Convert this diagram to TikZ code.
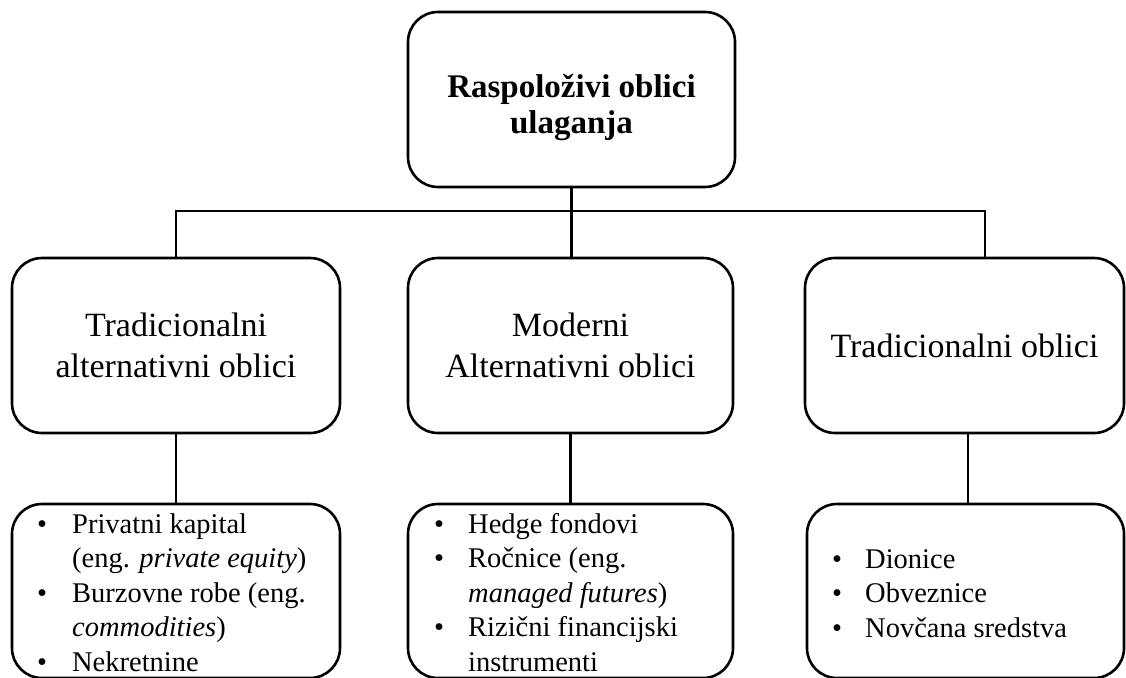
\documentclass[tikz,border=0pt]{standalone}
\usepackage{fontspec}
\setmainfont{Liberation Serif}
\tikzset{
  box/.style={draw=black, line width=2.6pt, rounded corners=30pt, inner sep=0pt, align=center},
  conn/.style={draw=black, line width=2.6pt},
  midtext/.style={font=\fontsize{34}{40.5}\selectfont},
  listtext/.style={inner sep=0pt, anchor=base west, align=left, font=\fontsize{28.5}{34.5}\selectfont}
}
\begin{document}
\begin{tikzpicture}[x=1pt,y=-1pt]
\useasboundingbox (0,0) rectangle (1126,677);
% top
\node[box, minimum width=327pt, minimum height=175pt] (top) at (571.5,99.5) {};
\node[inner sep=0pt, align=center, font=\bfseries\fontsize{33}{36}\selectfont] (toptext) at (571.5,108) {Raspoloživi oblici\\ulaganja};
% middle row
\node[box, midtext, minimum width=328pt, minimum height=175pt] (ml) at (176,345.5) {Tradicionalni\\alternativni oblici};
\node[box, midtext, minimum width=325pt, minimum height=175pt] (mm) at (570.5,345.5) {Moderni\\Alternativni oblici};
\node[box, midtext, minimum width=319pt, minimum height=175pt] (mr) at (964.5,345.5) {Tradicionalni oblici};
% bottom row
\node[box, minimum width=328pt, minimum height=174pt] (bl) at (176,591) {};
\node[box, minimum width=325pt, minimum height=174pt] (bm) at (570.5,591) {};
\node[box, minimum width=317pt, minimum height=174pt] (br) at (965.5,591) {};
% lists
\node[listtext] (ll) at (37,533) {\begin{tabular}[t]{@{}p{35pt}@{}l@{}}
\textbullet & Privatni kapital\\
 & (eng. \textit{private equity})\\
\textbullet & Burzovne robe (eng.\\
 & \textit{commodities})\\
\textbullet & Nekretnine
\end{tabular}};
\node[listtext] (lm) at (434,533) {\begin{tabular}[t]{@{}p{34pt}@{}l@{}}
\textbullet & Hedge fondovi\\
\textbullet & Ročnice (eng.\\
 & \textit{managed futures})\\
\textbullet & Rizični financijski\\
 & instrumenti
\end{tabular}};
\node[listtext] (lr) at (832,568) {\begin{tabular}[t]{@{}p{33pt}@{}l@{}}
\textbullet & Dionice\\
\textbullet & Obveznice\\
\textbullet & Novčana sredstva
\end{tabular}};
% connectors
\coordinate (hj) at (571.5,211);
\coordinate (rj) at (985,211);
\coordinate (rb) at (968,433);
\draw[conn] (top.south) -- (hj);
\draw[conn] (ml.north) -- (ml.north |- hj) -- (rj) -- (rj |- mr.north);
\draw[conn] (hj) -- (hj |- mm.north);
\draw[conn] (ml.south) -- (bl.north);
\draw[conn] (mm.south) -- (mm.south |- bm.north);
\draw[conn] (rb) -- (rb |- br.north);
\end{tikzpicture}
\end{document}
